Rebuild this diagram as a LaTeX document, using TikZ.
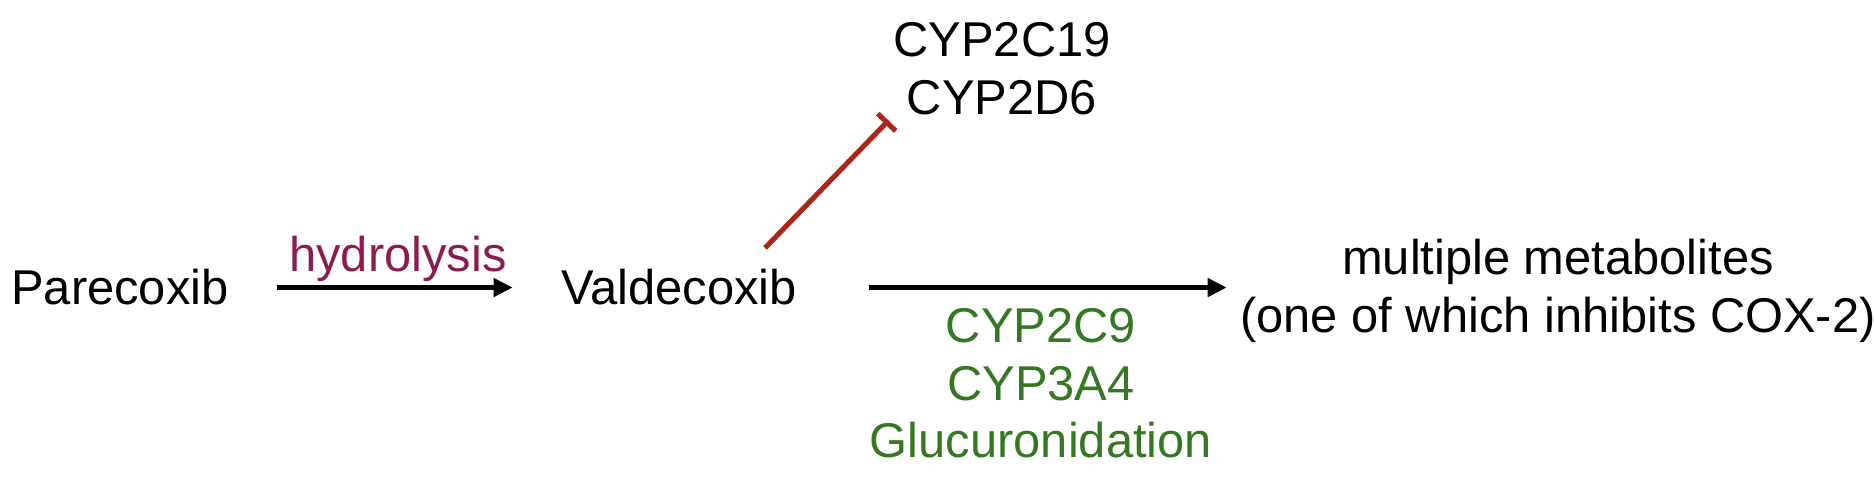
\documentclass[tikz,border=0pt]{standalone}
\usepackage{fontspec}
\setmainfont{Liberation Sans}
\usepackage{xcolor}
\usetikzlibrary{arrows.meta,calc,positioning}
\definecolor{hydro}{RGB}{140,28,80}
\definecolor{enzgreen}{RGB}{52,120,34}
\definecolor{inhred}{RGB}{170,38,26}

\begin{document}
\begin{tikzpicture}[
		txt/.style={font=\fontsize{13.9}{16.5}\selectfont, inner sep=0pt, anchor=base, align=center},
		conv/.style={line width=1.3pt, -{Triangle[length=0.19cm,width=0.18cm]}},
		inhib/.style={line width=1.45pt, inhred, -{Bar[width=0.25cm]}}
	]
		\useasboundingbox (0,0) rectangle (18.74,4.80);
		\node [txt] (pare) at (1.20,1.75) {Parecoxib};
		\node [txt] (vald) at (6.79,1.75) {Valdecoxib};
		\node [txt, text=hydro] (hyd) at (3.98,2.08) {hydrolysis};
		% base is the last line
		\node [txt] (cyp) at (10.02,3.65) {CYP2C19\\CYP2D6};
		\node [txt] (meta) at (15.58,1.47) {multiple metabolites\\(one of which inhibits COX-2)};
		\node [txt, text=enzgreen] (enz) at (10.41,0.22) {CYP2C9\\CYP3A4\\Glucuronidation};
		\coordinate (inh) at (7.65,2.32);
		\draw [conv, shorten <=0.48cm, shorten >=0.48cm] (pare.east) -- (vald.west);
		\draw [conv, shorten <=0.72cm, shorten >=0.13cm] (vald.east) -- (vald.east -| meta.west);
		\draw [inhib, shorten >=0.06cm] (inh) -- (cyp.south west);
	\end{tikzpicture}
\end{document}
